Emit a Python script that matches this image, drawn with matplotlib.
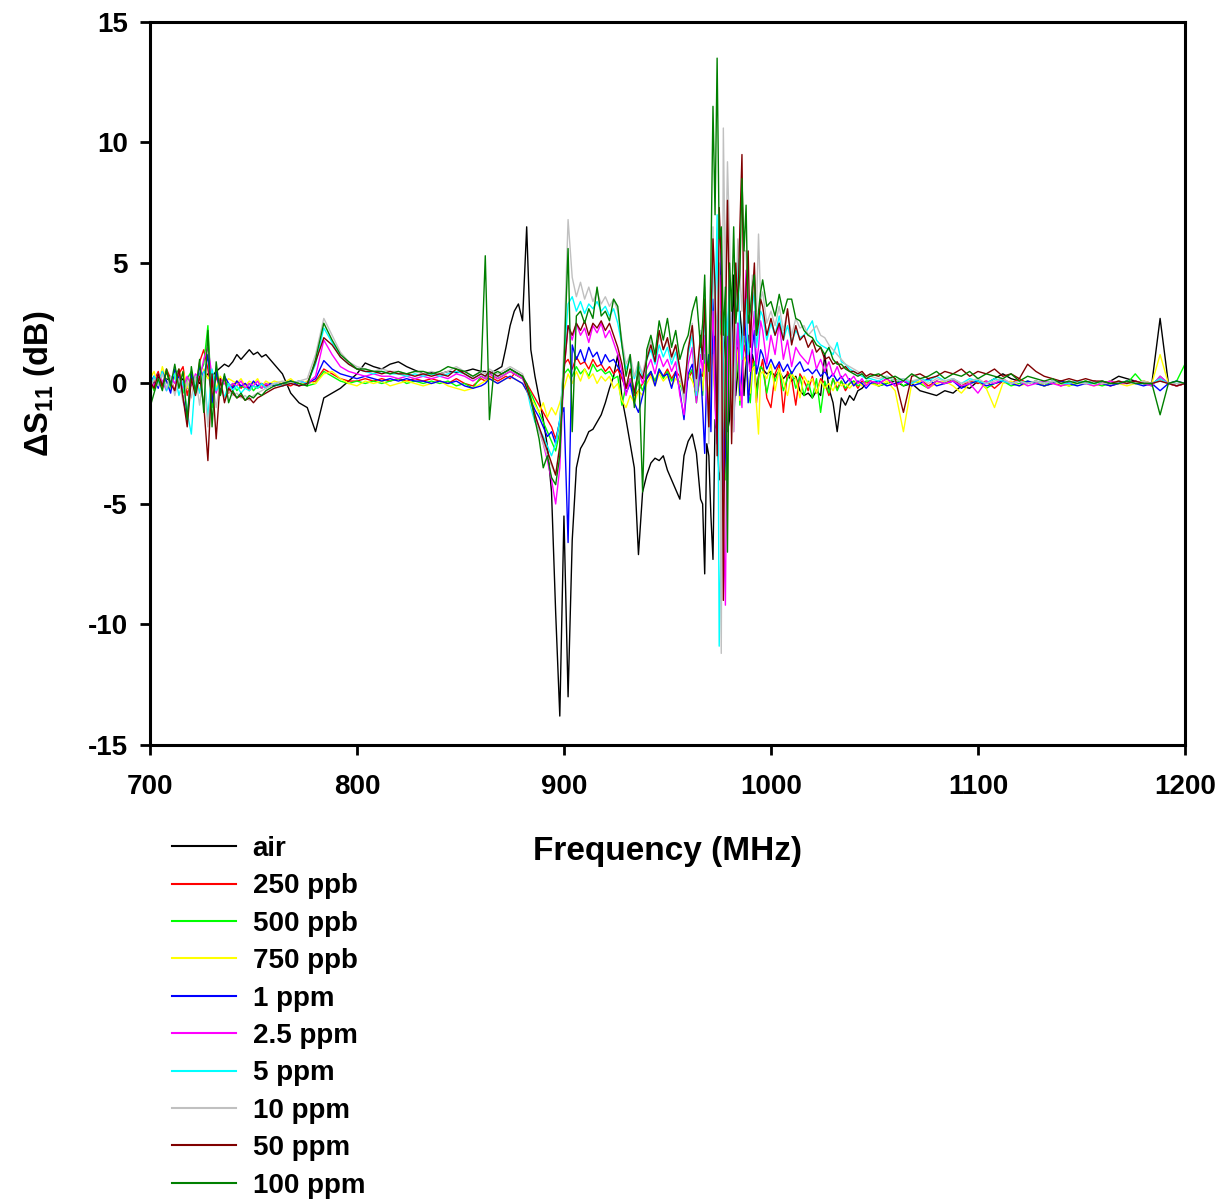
import numpy as np
import matplotlib
matplotlib.use("Agg")
import matplotlib.pyplot as plt

plt.rcParams['font.family'] = ['Liberation Sans', 'DejaVu Sans']
plt.rcParams['font.weight'] = 'bold'
plt.rcParams['axes.unicode_minus'] = False
plt.rcParams['mathtext.fontset'] = 'custom'
plt.rcParams['mathtext.rm'] = 'Liberation Sans:bold'
plt.rcParams['mathtext.it'] = 'Liberation Sans:bold'
plt.rcParams['mathtext.bf'] = 'Liberation Sans:bold'

# Sweep frequencies (MHz): finer steps where the response changes quickly
freq_mhz = np.concatenate([
    np.arange(700, 760, 2),
    np.arange(760, 860, 4),
    np.arange(860, 968, 2),
    np.arange(967, 996, 1),
    np.arange(996, 1048, 2),
    np.arange(1048, 1201, 4),
])

labels = ["air", "250 ppb", "500 ppb", "750 ppb", "1 ppm",
          "2.5 ppm", "5 ppm", "10 ppm", "50 ppm", "100 ppm"]
colors = ["#000000", "#FF0000", "#00FF00", "#FFFF00", "#0000FF",
          "#FF00FF", "#00FFFF", "#C0C0C0", "#800000", "#008000"]

# Delta S11 (dB) per exposure
air = [
    0.2, 0.0, 0.3, -0.1, 0.2, 0.1, 0.3, 0.0, 0.2, -0.2,
    0.1, 0.3, 0.0, 0.2, 0.4, 0.3, 0.5, 0.65, 0.8, 0.7,
    0.9, 1.2, 1.0, 1.2, 1.4, 1.2, 1.3, 1.1, 1.2, 1.0,
    0.8, 0.4, -0.4, -0.8, -1.0, -2.0, -0.6, -0.4, -0.2, 0.1,
    0.4, 0.85, 0.7, 0.6, 0.8, 0.9, 0.7, 0.55, 0.4, 0.45,
    0.4, 0.5, 0.45, 0.5, 0.6,
    0.5, 0.5, 0.4, 0.5, 0.6, 0.7, 1.5, 2.4, 3.0, 3.3,
    2.6, 6.5, 1.4, 0.3, -0.6, -1.5, -2.6, -4.5, -9.5, -13.8,
    -5.5, -13.0, -6.5, -3.5, -2.7, -2.4, -2.0, -1.9, -1.6, -1.3,
    -0.8, -0.2, 0.3, 1.2, -0.6, -1.5, -2.5, -3.5, -7.1, -4.5,
    -3.8, -3.3, -3.1, -3.2, -3.0, -3.6, -4.0, -4.4, -4.8, -3.0,
    -2.4, -2.1, -2.9, -4.8,
    -5.0, -7.9, -2.5, -3.0, -5.5, -7.3, -1.5, -2.0, -4.0, -3.5,
    1.0, 2.5, -2.0, -1.5, 1.5, 4.5, -0.5, 0.5, 3.0, 2.0,
    -0.5, 1.0, 2.0, 0.5, 1.2, 0.8, -0.3, 0.3, 0.7,
    0.6, 0.4,
    0.5, 0.3, 0.5, 0.2, 0.4, 0.1, 0.3, -0.3, -0.5, -0.4,
    -0.6, -0.3, -0.5, 1.2, -0.2, -0.8, -2.0, -0.6, -0.9, -0.5,
    -0.7, -0.3, -0.2, 0.0,
    0.1, -0.1, 0.0, 0.1, -0.1, 0.0, -0.3, -0.4, -0.5, -0.3,
    -0.4, -0.1, -0.2, 0.1, 0.0, 0.2, 0.4, 0.2, 0.1, 0.0,
    0.1, -0.1, 0.0, 0.1, 0.0, 0.1, 0.0, 0.1, 0.0, 0.1,
    0.3, 0.2, 0.1, 0.0, 0.0, 2.7, 0.0, -0.1, 0.0,
]

ppb_250 = [
    0.3, 0.1, 0.5, -0.2, 0.6, 0.2, -0.3, 0.4, 0.7, -0.5,
    0.3, -0.4, 0.9, 1.4, 0.6, -0.6, 0.3, -0.3, 0.2, -0.4,
    -0.1, 0.1, -0.2, 0.0, -0.3, -0.1, -0.2, 0.0, -0.1, 0.0,
    -0.1, 0.0, -0.1, 0.1, 0.0, 0.1, 0.6, 0.4, 0.2, 0.1,
    0.1, 0.2, 0.1, 0.2, 0.1, 0.2, 0.1, 0.2, 0.1, 0.2,
    0.1, 0.0, 0.2, 0.0, -0.1,
    0.2, 0.1, 0.3, 0.2, 0.1, 0.2, 0.3, 0.2, 0.4, 0.3,
    0.2, 0.0, -0.3, -0.6, -0.9, -1.2, -1.5, -1.8, -2.3, -1.6,
    0.8, 1.0, 0.6, 1.1, 0.8, 0.9, 0.6, 1.0, 0.7, 0.8,
    0.5, 0.7, 0.4, 0.6, 0.2, -0.2, 0.1, -0.5, -0.3, 0.0,
    0.2, 0.4, 0.1, 0.5, 0.3, 0.6, 0.2, 0.5, 0.3, -0.3,
    0.2, 0.5, -0.6, 0.4,
    0.3, 1.0, -0.4, -0.8, 0.9, 1.5, -0.5, -1.2, 1.8, 2.5,
    -1.0, -2.5, 0.5, 2.0, 0.8, -1.0, 0.3, 1.5, -0.6, 0.2,
    1.6, 1.2, -0.3, -0.5, 1.0, 0.8, -0.8, 0.3, 0.6,
    1.0, -0.6,
    -1.0, 0.4, 0.8, -1.2, 0.5, 0.2, -0.9, 0.4, 0.1, -0.3,
    0.3, -0.4, 0.2, 0.0, -0.5, 0.2, -0.2, 0.1, -0.3, 0.0,
    0.1, -0.2, 0.1, 0.0,
    0.1, 0.0, 0.2, -0.1, 0.1, 0.0, 0.2, -0.1, 0.1, 0.0,
    0.2, -0.1, 0.1, 0.0, 0.1, -0.2, 0.1, 0.0, 0.2, 0.0,
    0.1, 0.0, 0.1, -0.1, 0.0, 0.1, 0.0, 0.1, 0.0, -0.1,
    0.0, 0.1, 0.0, 0.1, 0.0, 0.2, 0.0, -0.1, 0.0,
]

ppb_500 = [
    0.1, -0.3, 0.4, 0.0, 0.5, -0.2, 0.3, 0.6, -0.4, 0.2,
    0.5, -0.2, 0.4, 0.8, 2.4, -1.0, 0.6, -0.5, 0.3, -0.2,
    0.0, -0.3, -0.1, -0.2, 0.0, -0.3, -0.1, -0.2, 0.0, -0.1,
    0.0, -0.1, 0.1, 0.0, -0.1, 0.0, 0.5, 0.3, 0.1, 0.0,
    0.1, 0.0, 0.1, 0.0, 0.1, 0.2, 0.0, 0.1, 0.0, 0.1,
    0.0, 0.1, -0.1, 0.0, -0.2,
    0.3, 0.2, 0.4, 0.3, 0.2, 0.3, 0.4, 0.5, 0.4, 0.3,
    0.2, -0.1, -0.4, -0.8, -1.2, -1.6, -2.0, -2.4, -2.8, -2.0,
    0.4, 0.6, 0.3, 0.7, 0.4, 0.6, 0.3, 0.8, 0.5, 0.6,
    0.4, 0.5, 0.2, 0.3, -0.9, -0.1, 0.2, -0.4, 0.1, -0.3,
    0.3, 0.5, 0.1, 0.6, 0.2, 0.5, 0.1, 0.4, 0.0, -0.5,
    0.3, 0.6, -0.8, 0.5,
    -0.5, 1.2, 0.3, -1.0, 1.0, 2.0, -0.8, -2.0, 1.5, 3.0,
    -1.5, -4.0, 1.0, 2.5, 0.5, -1.5, 0.2, 1.0, -0.9, 0.3,
    2.0, 1.5, -0.4, -0.8, 0.5, 0.9, -0.6, 0.2, 0.7,
    0.6, -0.4,
    0.5, 0.1, 0.6, -0.3, 0.2, 0.5, -0.2, 0.3, -0.5, 0.1,
    -0.6, 0.2, -1.2, 0.1, -0.4, 0.2, -0.3, 0.1, -0.2, 0.0,
    0.1, -0.1, 0.0, 0.1,
    0.1, -0.1, 0.0, 0.2, -0.1, 0.1, 0.0, -0.2, 0.1, 0.0,
    0.1, -0.1, 0.0, 0.1, -0.2, 0.0, 0.1, -0.1, 0.0, 0.1,
    0.0, -0.1, 0.1, 0.0, -0.1, 0.0, 0.1, 0.0, -0.1, 0.0,
    0.1, 0.0, 0.4, 0.0, -0.1, 0.3, 0.0, 0.1, 0.8,
]

ppb_750 = [
    0.2, 0.5, -0.1, 0.7, 0.1, -0.3, 0.4, 0.0, 0.5, -0.2,
    0.3, 0.1, -0.3, 0.6, 0.2, 0.4, -0.2, 0.3, 0.0, 0.2,
    0.1, 0.0, 0.2, -0.1, 0.1, 0.0, 0.2, -0.1, 0.1, 0.0,
    0.1, 0.0, 0.2, -0.1, 0.1, 0.0, 0.4, 0.5, 0.2, 0.0,
    -0.1, 0.1, 0.0, 0.1, -0.1, 0.0, 0.1, 0.0, -0.1, 0.0,
    0.1, -0.1, -0.2, -0.3, -0.2,
    0.0, 0.1, 0.2, 0.1, 0.0, 0.1, 0.2, 0.3, 0.2, 0.1,
    0.0, -0.3, -0.6, -0.9, -1.2, -0.8, -1.4, -1.0, -1.3, -0.8,
    -0.2, 0.4, 0.0, 0.5, 0.1, 0.6, 0.2, 0.4, 0.0, 0.3,
    0.1, 0.3, -0.2, 0.0, -0.7, -1.0, -0.5, -0.8, -0.3, -0.5,
    0.0, 0.3, -0.1, 0.4, 0.1, 0.3, -0.1, 0.2, 0.0, -0.2,
    0.4, 0.1, -0.4, 0.3,
    -0.3, 0.8, 0.2, -0.6, 0.6, 1.2, -0.8, -1.5, 0.9, 2.0,
    -1.2, -3.0, 0.4, 1.8, 0.3, -1.0, 0.5, 1.4, -0.7, 0.0,
    1.1, 0.9, -0.2, -0.4, 0.6, 0.7, -0.9, -2.1, 0.4,
    0.5, 0.2,
    0.8, -0.3, 0.6, 0.1, -0.5, 0.4, 0.2, -0.6, 0.3, 0.0,
    0.2, -0.4, 0.1, -0.2, 0.0, -0.3, 0.1, -0.1, 0.0, -0.2,
    0.0, 0.1, -0.1, 0.0,
    0.0, -0.1, 0.1, -0.3, -2.0, 0.0, 0.1, -0.2, 0.0, 0.1,
    -0.1, -0.4, 0.0, 0.1, -0.2, -1.0, 0.0, 0.1, -0.1, 0.0,
    0.1, -0.1, 0.0, 0.0, -0.1, 0.1, 0.0, -0.1, 0.0, 0.1,
    0.0, -0.1, 0.0, 0.1, 0.0, 1.2, 0.0, -0.1, 0.0,
]

ppm_1 = [
    0.0, 0.3, -0.2, 0.5, 0.1, -0.4, 0.6, 0.2, -0.6, -1.5,
    0.4, -0.3, 0.7, 0.2, 1.2, -0.8, 0.5, -0.4, 0.3, 0.0,
    -0.2, 0.1, -0.1, 0.0, -0.2, 0.1, -0.1, 0.0, -0.2, 0.0,
    -0.1, 0.0, 0.1, -0.1, 0.0, 0.2, 0.95, 0.6, 0.4, 0.3,
    0.2, 0.3, 0.2, 0.1, 0.2, 0.1, 0.2, 0.1, 0.1, 0.0,
    0.1, 0.0, 0.1, -0.1, -0.2,
    -0.1, 0.0, 0.2, 0.1, 0.0, 0.1, 0.2, 0.3, 0.2, 0.1,
    0.0, -0.3, -0.7, -1.1, -1.4, -1.8, -2.2, -2.0, -2.5, -1.5,
    -1.0, -6.6, 1.6, 1.0, 1.4, 0.9, 1.5, 1.1, 1.3, 0.8,
    1.2, 0.9, 1.0, 0.7, 0.4, -0.4, 0.0, -0.8, -1.2, -0.5,
    0.2, 0.5, -0.1, 0.6, 0.3, 0.4, -0.2, 0.5, -0.3, -1.5,
    0.4, 0.8, -0.6, 0.6,
    -1.0, -2.9, 0.5, 1.2, -2.0, 3.5, 1.0, -1.5, 2.0, 5.5,
    -4.5, -3.0, 1.5, 4.0, 2.0, -1.5, 0.8, 2.5, -0.5, 0.5,
    3.0, 1.8, -0.8, 0.2, 1.5, 2.2, 0.4, 0.8, 1.4,
    1.2, 0.6,
    1.0, 0.6, 0.9, 0.5, 0.8, 0.4, 0.7, 0.9, 0.5, 0.6,
    0.4, 0.6, 0.3, 0.5, 0.2, 0.4, 0.1, 0.3, 0.0, 0.2,
    -0.1, 0.1, 0.0, -0.2,
    0.0, 0.1, -0.1, 0.0, 0.1, -0.1, 0.0, 0.2, -0.1, 0.0,
    0.1, -0.2, 0.0, 0.1, -0.1, 0.0, 0.1, 0.0, -0.1, 0.1,
    0.0, -0.1, 0.0, 0.1, 0.0, -0.1, 0.0, 0.1, 0.0, -0.1,
    0.0, 0.1, 0.0, -0.1, 0.0, -0.3, 0.0, 0.1, 0.0,
]

ppm_2_5 = [
    0.2, -0.1, 0.4, 0.1, -0.3, 0.3, 0.0, 0.5, -0.2, 0.3,
    -0.1, 0.4, 0.2, 1.0, 1.5, 0.3, -0.4, 0.2, 0.0, -0.2,
    0.0, -0.1, 0.1, -0.2, 0.0, -0.1, 0.1, -0.2, 0.0, -0.1,
    0.0, -0.1, 0.0, 0.1, 0.0, 0.3, 1.8, 1.2, 0.7, 0.5,
    0.4, 0.3, 0.4, 0.3, 0.3, 0.2, 0.3, 0.2, 0.3, 0.2,
    0.3, 0.2, 0.4, 0.3, 0.1,
    0.3, 0.2, 0.4, 0.3, 0.2, 0.3, 0.4, 0.5, 0.4, 0.3,
    0.2, -0.2, -0.8, -1.3, -1.9, -2.5, -3.2, -4.0, -5.0, -3.5,
    0.5, 2.4, 1.8, 2.5, 2.0, 2.3, 1.7, 2.4, 2.1, 2.5,
    1.9, 2.2, 1.7, 1.2, 0.5, -0.5, 0.2, -0.3, 0.5, 0.0,
    0.6, 1.0, 0.4, 1.2, 0.7, 1.0, 0.5, 0.9, -0.5, -1.3,
    0.8, 1.5, -0.8, 1.2,
    0.5, 2.0, -0.5, -1.5, 1.5, 3.0, -1.0, -2.5, 2.5, 4.5,
    -5.5, -9.2, 1.0, 3.5, 1.5, -2.0, 0.8, 2.5, 0.2, -1.0,
    2.5, 4.7, 1.0, 0.5, 2.0, 3.0, 0.8, 1.5, 2.6,
    2.2, 0.8,
    2.0, 1.2, 2.5, 1.0, 1.8, 0.7, 1.5, 1.2, 1.0, 0.8,
    1.4, 0.6, 1.0, 0.5, 0.9, 0.3, 0.7, 0.2, 0.4, 0.1,
    0.3, 0.0, 0.2, -0.1,
    0.1, 0.0, 0.2, -0.1, 0.1, 0.0, 0.2, -0.2, 0.1, 0.0,
    0.1, -0.1, 0.0, -0.4, 0.1, 0.0, 0.2, 0.0, 0.1, -0.1,
    0.0, 0.1, 0.0, -0.1, 0.0, 0.1, 0.0, -0.1, 0.0, 0.1,
    0.0, 0.0, 0.1, 0.0, -0.1, 0.3, 0.0, -0.1, 0.0,
]

ppm_5 = [
    -0.2, 0.3, 0.0, 0.5, -0.3, 0.2, 0.4, -0.5, 0.1, -1.2,
    -2.1, 0.3, -0.4, 0.5, -1.4, 0.6, -0.3, 0.1, -0.6, 0.0,
    -0.3, -0.1, -0.4, -0.2, -0.3, -0.1, -0.2, 0.0, -0.2, -0.1,
    0.0, -0.1, 0.0, 0.1, 0.0, 0.8, 2.3, 1.7, 1.1, 0.8,
    0.6, 0.5, 0.4, 0.5, 0.4, 0.4, 0.3, 0.4, 0.3, 0.4,
    0.3, 0.4, 0.5, 0.4, 0.2,
    0.4, 0.3, 0.5, 0.4, 0.3, 0.4, 0.5, 0.6, 0.5, 0.4,
    0.3, -0.2, -1.0, -1.6, -1.9, -2.2, -2.6, -3.0, -2.5, -1.5,
    1.0, 3.3, 3.6, 3.0, 3.4, 2.9, 3.3, 3.1, 3.4, 3.0,
    3.2, 2.8, 3.1, 2.5, 1.6, 0.6, 1.0, 0.2, 0.8, 0.3,
    1.0, 1.4, 0.8, 1.6, 1.1, 1.5, 0.8, 1.3, 0.4, -0.5,
    1.2, 2.0, -0.5, 1.8,
    1.0, 3.0, 0.5, -2.0, 2.0, 5.0, 3.0, 7.0, -10.9, -6.0,
    1.5, 3.0, 2.0, 4.5, 0.5, -1.5, 2.5, 5.2, 2.0, 1.0,
    3.0, 3.5, 1.2, 2.0, 3.2, 3.8, 1.5, 2.2, 3.0,
    2.8, 1.8,
    2.5, 2.0, 2.8, 1.8, 2.4, 1.7, 2.2, 1.9, 2.0, 2.3,
    2.6, 1.8, 1.6, 1.5, 1.4, 1.2, 1.7, 0.9, 0.8, 0.6,
    0.5, 0.4, 0.3, 0.2,
    0.2, 0.1, 0.3, 0.1, 0.2, 0.0, 0.2, 0.1, 0.3, 0.1,
    0.2, 0.0, 0.2, 0.1, 0.0, 0.2, 0.1, 0.0, 0.1, 0.0,
    0.1, 0.0, 0.1, 0.0, 0.0, 0.1, 0.0, 0.0, 0.1, 0.0,
    0.0, 0.1, 0.0, 0.0, 0.0, 0.2, 0.0, 0.0, 0.0,
]

ppm_10 = [
    -0.3, 0.2, -0.1, 0.4, -0.2, 0.3, -0.5, 0.2, -0.8, 0.1,
    -0.6, 0.3, -0.9, 0.4, -1.8, 0.2, -1.0, 0.1, -0.7, -0.3,
    -0.5, -0.4, -0.6, -0.5, -0.7, -0.5, -0.4, -0.3, -0.2, -0.1,
    0.0, 0.1, 0.0, 0.1, 0.2, 1.2, 2.7, 2.0, 1.3, 0.9,
    0.7, 0.6, 0.5, 0.6, 0.5, 0.5, 0.4, 0.5, 0.4, 0.5,
    0.4, 0.5, 0.7, 0.5, 0.3,
    0.5, 0.4, 0.6, 0.5, 0.4, 0.5, 0.6, 0.7, 0.6, 0.5,
    0.4, -0.1, -0.8, -1.5, -2.0, -2.5, -3.0, -3.4, -3.8, -2.5,
    1.5, 6.8, 4.4, 3.6, 4.2, 3.5, 4.0, 3.4, 3.8, 3.3,
    3.6, 3.2, 3.5, 3.0, 1.8, 0.8, 1.2, 0.3, 0.9, 0.4,
    1.2, 1.8, 1.0, 2.0, 1.4, 1.8, 1.0, 1.6, 0.5, -0.8,
    1.5, 2.5, -0.3, 2.2,
    1.5, 4.0, 1.0, -2.5, 3.0, 6.5, 2.0, 3.0, 5.0, -11.2,
    10.6, 4.0, 9.2, 6.0, 1.0, -2.0, 3.0, 6.0, 4.5, 3.0,
    5.5, 5.5, 3.0, 2.0, 4.5, 4.0, 3.0, 6.2, 3.5,
    3.8, 2.5,
    3.0, 2.4, 3.2, 2.2, 3.0, 2.0, 2.7, 2.3, 2.4, 2.0,
    2.2, 2.4, 2.0, 1.9, 1.6, 1.4, 1.2, 1.0, 0.8, 0.7,
    0.6, 0.5, 0.4, 0.3,
    0.3, 0.2, 0.3, 0.1, 0.2, 0.1, 0.2, 0.0, 0.2, 0.1,
    0.2, 0.0, 0.1, 0.2, 0.0, 0.1, 0.2, 0.0, 0.1, 0.0,
    0.1, 0.0, 0.1, 0.0, 0.1, 0.0, 0.0, 0.1, 0.0, 0.0,
    0.1, 0.0, 0.0, 0.1, 0.0, 0.1, 0.0, 0.0, 0.0,
]

ppm_50 = [
    0.1, -0.2, 0.4, -0.1, 0.5, 0.0, -0.3, 0.6, -0.6, -1.8,
    0.2, -0.5, 0.3, -0.9, -3.2, 0.4, -2.3, 0.2, -0.8, -0.2,
    -0.4, -0.6, -0.5, -0.7, -0.6, -0.8, -0.6, -0.5, -0.4, -0.3,
    -0.2, -0.1, 0.0, -0.1, 0.0, 0.9, 1.9, 1.6, 1.1, 0.8,
    0.6, 0.5, 0.5, 0.4, 0.5, 0.4, 0.4, 0.3, 0.4, 0.3,
    0.4, 0.3, 0.6, 0.4, 0.2,
    0.4, 0.3, 0.5, 0.4, 0.3, 0.4, 0.5, 0.6, 0.5, 0.4,
    0.3, -0.2, -0.7, -1.3, -1.8, -2.3, -2.8, -3.3, -3.8, -2.6,
    0.5, 2.4, 2.0, 2.5, 2.2, 2.6, 2.0, 2.5, 2.3, 2.6,
    2.2, 2.5, 2.0, 1.5, 0.8, -0.2, 0.6, -0.4, 0.5, 0.2,
    1.0, 1.6, 0.9, 2.2, 1.4, 1.9, 1.1, 1.6, 0.6, -0.4,
    1.4, 2.4, 0.2, 2.0,
    1.0, 3.5, 0.5, -1.8, 2.5, 6.0, 4.0, -3.0, 7.3, 5.0,
    -9.0, 2.0, 7.6, 3.0, -2.5, 1.5, 5.0, 3.0, 6.5, 9.5,
    2.0, 4.0, 5.5, 1.5, 3.5, 5.0, 2.0, 2.5, 3.5,
    3.2, 2.0,
    2.7, 2.0, 2.5, 1.8, 3.1, 1.6, 2.4, 1.8, 2.0, 1.5,
    1.8, 1.3, 1.5, 1.0, 1.1, 0.8, 0.9, 0.6, 0.7, 0.5,
    0.5, 0.4, 0.5, 0.3,
    0.4, 0.3, 0.5, 0.2, -1.2, 0.3, 0.4, 0.2, 0.3, 0.5,
    0.4, 0.6, 0.3, 0.5, 0.4, 0.6, 0.3, 0.4, 0.2, 0.8,
    0.5, 0.3, 0.2, 0.1, 0.2, 0.1, 0.2, 0.1, 0.1, 0.0,
    0.1, 0.0, 0.1, 0.0, 0.0, 0.1, 0.0, -0.1, 0.0,
]

ppm_100 = [
    -1.0, -0.4, 0.2, -0.3, 0.6, -0.1, 0.8, -0.2, 0.5, -1.5,
    0.7, -0.4, 1.0, -1.2, 2.2, -1.8, 0.9, -0.5, 0.4, -0.8,
    -0.3, -0.6, -0.4, -0.7, -0.5, -0.6, -0.4, -0.5, -0.3, -0.2,
    -0.1, 0.0, 0.1, 0.0, -0.1, 1.0, 2.5, 1.8, 1.2, 0.9,
    0.6, 0.6, 0.5, 0.5, 0.4, 0.5, 0.4, 0.5, 0.5, 0.4,
    0.5, 0.7, 0.6, 0.5, 0.3,
    0.5, 5.3, -1.5, 0.4, 0.5, 0.4, 0.5, 0.6, 0.5, 0.4,
    0.3, 0.0, -0.6, -1.5, -2.3, -3.5, -3.0, -3.9, -4.2, -3.0,
    0.8, 5.6, -2.0, 2.8, 3.0, 2.5, 3.1, 2.7, 4.0, 2.8,
    3.0, 2.6, 3.5, 3.2, 1.6, 0.3, 1.2, -1.0, 0.9, -4.5,
    1.4, 2.0, 1.2, 2.6, 1.8, 2.7, 1.5, 2.2, 1.0, 1.6,
    2.0, 3.0, 3.6, 1.5,
    2.5, 4.5, 1.0, 0.5, 5.0, 11.5, 7.0, 13.5, 6.0, 6.5,
    2.0, 4.0, -7.0, 5.0, 3.0, 6.5, 2.5, 3.5, 4.5, 8.5,
    5.5, 7.4, 2.5, 3.0, 4.0, 4.5, 2.0, 3.0, 3.8,
    4.3, 3.2,
    3.4, 2.8, 3.7, 2.9, 3.5, 3.5, 2.7, 2.6, 2.2, 2.0,
    1.9, 1.6, 1.5, 1.2, 1.5, 1.0, 0.8, 0.8, 0.6, 0.5,
    0.4, 0.3, 0.4, 0.2,
    0.3, 0.4, 0.2, 0.3, 0.1, 0.4, 0.2, 0.3, 0.5, 0.2,
    0.4, 0.3, 0.5, 0.2, 0.4, 0.3, 0.2, 0.4, 0.1, 0.3,
    0.2, 0.1, 0.2, 0.0, 0.1, 0.0, 0.1, 0.0, 0.1, 0.0,
    0.0, 0.1, 0.0, 0.0, 0.0, -1.3, 0.0, 0.1, 0.0,
]

series = [air, ppb_250, ppb_500, ppb_750, ppm_1,
          ppm_2_5, ppm_5, ppm_10, ppm_50, ppm_100]

fig = plt.figure(figsize=(12.25, 12.01), dpi=100)
ax = fig.add_axes([0.1224, 0.3797, 0.8449, 0.6020])

for vals, lab, col in zip(series, labels, colors):
    ax.plot(freq_mhz, vals, color=col, lw=1.0, label=lab)

ax.set_xlim(700, 1200)
ax.set_ylim(-15, 15)
ax.set_xticks(np.arange(700, 1201, 100))
ax.set_yticks(np.arange(-15, 16, 5))

for sp in ax.spines.values():
    sp.set_linewidth(2.2)
ax.tick_params(axis='both', which='major', direction='out', length=7,
               width=2, labelsize=20, top=False, right=False)
ax.tick_params(axis='x', pad=14)
ax.tick_params(axis='y', pad=9)
for t in ax.get_xticklabels() + ax.get_yticklabels():
    t.set_fontweight('bold')

ax.set_xlabel('Frequency (MHz)', fontsize=24, fontweight='bold', labelpad=26)
ax.set_ylabel(r'$\Delta$S$_{11}$ (dB)', fontsize=23.5, fontweight='bold',
              labelpad=22)

leg = fig.legend(loc='upper left', bbox_to_anchor=(0.1404, 0.3039),
                 frameon=False, fontsize=20, handlelength=2.3,
                 handletextpad=0.6, labelspacing=0.41, borderpad=0,
                 borderaxespad=0)
for line in leg.get_lines():
    line.set_linewidth(1.5)
for t in leg.get_texts():
    t.set_fontweight('bold')

fig.savefig('out.png', dpi=100)
